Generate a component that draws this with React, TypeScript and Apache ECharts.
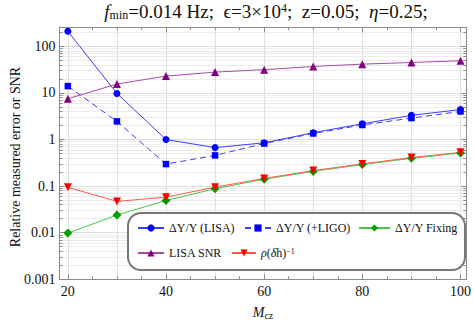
import React, { useEffect, useRef } from 'react';
import * as echarts from 'echarts';

// ---- data ----
const mcz = [20, 30, 40, 50, 60, 70, 80, 90, 100];
const lisaErr = [210, 9.75, 1.0, 0.67, 0.85, 1.4, 2.18, 3.3, 4.4];
const ligoErr = [14, 2.45, 0.297, 0.456, 0.82, 1.35, 2.05, 2.88, 4.0];
const fixingErr = [0.0098, 0.024, 0.049, 0.088, 0.141, 0.207, 0.29, 0.395, 0.515];
const lisaSnr = [7.5, 15.5, 23, 28, 31.5, 37, 41.5, 45, 49];
const rhoInv = [0.094, 0.047, 0.058, 0.095, 0.146, 0.215, 0.3, 0.41, 0.53];

const seriesNames = ['ΔY/Y (LISA)', 'ΔY/Y (+LIGO)', 'ΔY/Y Fixing', 'LISA SNR', 'rho'];

// ---- axis ticks ----
const xMin = 18.3;
const xMax = 101.2;
const yMin = 0.001;
const yMax = 260;
const xLabelTicks = [20, 40, 60, 80, 100];
const xMinorTicks = [25, 30, 35, 45, 50, 55, 65, 70, 75, 85, 90, 95];
const xGridLines = [20, 30, 40, 50, 60, 70, 80, 90, 100];
const yLabelTicks = [0.001, 0.01, 0.1, 1, 10, 100];
const yMinorMultipliers = [2, 3, 4, 5, 6, 7, 8, 9];
const yMinorTicks = yLabelTicks
  .flatMap((d) => yMinorMultipliers.map((m) => Number((d * m).toPrecision(3))))
  .filter((v) => v < yMax);

const SERIF = '"Liberation Serif", "DejaVu Serif", serif';
const FRAME = '#8c8c8c';
const SP = '\u00a0\u00a0';

const pairs = (ys: number[]) => mcz.map((x, i) => [x, ys[i]]);

export default function App() {
  const ref = useRef<HTMLDivElement>(null);
  useEffect(() => {
    if (!ref.current) return;
    const chart = echarts.init(ref.current, undefined, { renderer: 'svg' });
    const grid = { left: 59.5, right: 7, top: 27, bottom: 42.7 };

    const xBase = (extra: any) => ({
      type: 'value',
      min: xMin,
      max: xMax,
      axisLabel: { show: false },
      splitLine: { show: false },
      axisLine: { show: false },
      ...extra,
    });
    const yBase = (extra: any) => ({
      type: 'log',
      logBase: 10,
      min: yMin,
      max: yMax,
      axisLabel: { show: false },
      splitLine: { show: false },
      axisLine: { show: false },
      ...extra,
    });

    const legendCommon = {
      orient: 'horizontal',
      padding: 0,
      itemGap: 0,
      itemHeight: 9,
      textStyle: { fontFamily: SERIF, fontSize: 12, color: '#111' },
    };

    const option: any = {
      animation: false,
      backgroundColor: '#fff',
      grid,
      title: [
        {
          left: 266,
          top: 2,
          padding: 0,
          textAlign: 'center',
          text:
            '{i|f}{sub|min}{r|=0.014 Hz;' + SP + 'ϵ=3×10}{sup|4}{r|;' + SP + 'z=0.05;' + SP + '}{i|η}{r|=0.25;}',
          textStyle: {
            fontFamily: SERIF,
            fontSize: 19,
            fontWeight: 'normal',
            color: '#111',
            rich: {
              r: { fontFamily: SERIF, fontSize: 19, color: '#111', verticalAlign: 'top', lineHeight: 19 },
              i: { fontFamily: SERIF, fontSize: 19, fontStyle: 'italic', color: '#111', verticalAlign: 'top', lineHeight: 19 },
              sub: { fontFamily: SERIF, fontSize: 12, color: '#111', verticalAlign: 'bottom', lineHeight: 12, padding: [9, 0, 0, 0] },
              sup: { fontFamily: SERIF, fontSize: 12, color: '#111', verticalAlign: 'top', lineHeight: 12 },
            },
          },
        },
        {
          left: 263,
          top: 305,
          padding: 0,
          textAlign: 'center',
          text: '{i|M}{sub|cz}',
          textStyle: {
            fontFamily: SERIF,
            fontSize: 14,
            fontWeight: 'normal',
            color: '#111',
            rich: {
              i: { fontFamily: SERIF, fontSize: 14, fontStyle: 'italic', color: '#111', verticalAlign: 'top', lineHeight: 15 },
              sub: { fontFamily: SERIF, fontSize: 10, color: '#111', verticalAlign: 'bottom', lineHeight: 10, padding: [7, 0, 0, 0] },
            },
          },
        },
      ],
      xAxis: [
        xBase({
          position: 'bottom',
          axisLine: { show: true, lineStyle: { color: FRAME, width: 1 } },
          axisTick: { show: true, inside: true, length: 5, customValues: xLabelTicks, lineStyle: { color: FRAME } },
          axisLabel: {
            show: true,
            customValues: xLabelTicks,
            fontFamily: SERIF,
            fontSize: 14,
            color: '#111',
            margin: 5,
          },
        }),
        xBase({
          position: 'bottom',
          axisTick: { show: true, inside: true, length: 3, customValues: xMinorTicks, lineStyle: { color: FRAME } },
        }),
        xBase({
          position: 'top',
          axisLine: { show: true, lineStyle: { color: FRAME, width: 1 } },
          axisTick: { show: true, inside: true, length: 5, customValues: xLabelTicks, lineStyle: { color: FRAME } },
        }),
        xBase({
          position: 'top',
          axisTick: { show: true, inside: true, length: 3, customValues: xMinorTicks, lineStyle: { color: FRAME } },
        }),
        xBase({
          position: 'bottom',
          axisTick: { show: false, customValues: xGridLines },
          splitLine: { show: true, lineStyle: { color: '#e0e0e0', width: 1 } },
        }),
      ],
      yAxis: [
        yBase({
          position: 'left',
          axisLine: { show: true, lineStyle: { color: FRAME, width: 1 } },
          axisTick: { show: true, inside: true, length: 5, customValues: yLabelTicks, lineStyle: { color: FRAME } },
          axisLabel: {
            show: true,
            customValues: yLabelTicks,
            fontFamily: SERIF,
            fontSize: 14,
            color: '#111',
            margin: 4,
            formatter: (v: number) => String(v),
          },
          splitLine: { show: true, lineStyle: { color: '#dedede', width: 1 } },
        }),
        yBase({
          position: 'left',
          axisTick: { show: true, inside: true, length: 3, customValues: yMinorTicks, lineStyle: { color: FRAME } },
          splitLine: { show: true, lineStyle: { color: '#ececec', width: 1 } },
        }),
        yBase({
          position: 'right',
          axisLine: { show: true, lineStyle: { color: FRAME, width: 1 } },
          axisTick: { show: true, inside: true, length: 5, customValues: yLabelTicks, lineStyle: { color: FRAME } },
        }),
        yBase({
          position: 'right',
          axisTick: { show: true, inside: true, length: 3, customValues: yMinorTicks, lineStyle: { color: FRAME } },
        }),
      ],
      legend: [
        { ...legendCommon, data: [seriesNames[0]], left: 137, top: 222, itemWidth: 26 },
        { ...legendCommon, data: [seriesNames[1]], left: 244, top: 222, itemWidth: 26 },
        { ...legendCommon, data: [seriesNames[2]], left: 358, top: 222, itemWidth: 31 },
        { ...legendCommon, data: [seriesNames[3]], left: 137, top: 247, itemWidth: 26 },
        {
          ...legendCommon,
          data: [seriesNames[4]],
          left: 231,
          top: 247,
          itemWidth: 24,
          formatter: () => '{i|ρ}{r|(}{i|δ}{r|h)}{sup|−1}',
          textStyle: {
            fontFamily: SERIF,
            fontSize: 12,
            color: '#111',
            rich: {
              i: { fontFamily: SERIF, fontSize: 12, fontStyle: 'italic', color: '#111' },
              r: { fontFamily: SERIF, fontSize: 12, color: '#111' },
              sup: { fontFamily: SERIF, fontSize: 8, color: '#111', verticalAlign: 'top', lineHeight: 8 },
            },
          },
        },
      ],
      graphic: [
        {
          type: 'rect',
          z: 1,
          shape: { x: 128, y: 213, width: 337, height: 57, r: 13 },
          style: { fill: '#fff', stroke: '#777', lineWidth: 2 },
        },
        {
          type: 'text',
          x: 15,
          y: 157,
          rotation: Math.PI / 2,
          style: {
            text: 'Relative measured error or SNR',
            align: 'center',
            verticalAlign: 'middle',
            fontFamily: SERIF,
            fontSize: 14,
            fill: '#111',
          },
        },
      ],
      series: [
        {
          name: seriesNames[0],
          type: 'line',
          data: pairs(lisaErr),
          symbol: 'circle',
          symbolSize: 7,
          itemStyle: { color: '#0000ff' },
          lineStyle: { color: '#3c3cff', width: 1 },
          z: 3,
        },
        {
          name: seriesNames[1],
          type: 'line',
          data: pairs(ligoErr),
          symbol: 'rect',
          symbolSize: 6.5,
          itemStyle: { color: '#0000ff' },
          lineStyle: { color: '#3c3cff', width: 1, type: [6, 4] },
          z: 3,
        },
        {
          name: seriesNames[3],
          type: 'line',
          data: pairs(lisaSnr),
          symbol: 'triangle',
          symbolSize: 8,
          itemStyle: { color: '#800080' },
          lineStyle: { color: '#a64ca6', width: 1 },
          z: 3,
        },
        {
          name: seriesNames[2],
          type: 'line',
          data: pairs(fixingErr),
          symbol: 'diamond',
          symbolSize: 9,
          itemStyle: { color: '#00a000' },
          lineStyle: { color: '#4cc44c', width: 1 },
          z: 3,
        },
        {
          name: seriesNames[4],
          type: 'line',
          data: pairs(rhoInv),
          symbol: 'triangle',
          symbolRotate: 180,
          symbolSize: 8,
          itemStyle: { color: '#ff0000' },
          lineStyle: { color: '#ff5a4a', width: 1 },
          z: 3,
        },
      ],
    };
    chart.setOption(option);
    return () => chart.dispose();
  }, []);
  return <div ref={ref} style={{ position: 'fixed', left: 0, top: 0, width: 474, height: 322 }} />;
}
